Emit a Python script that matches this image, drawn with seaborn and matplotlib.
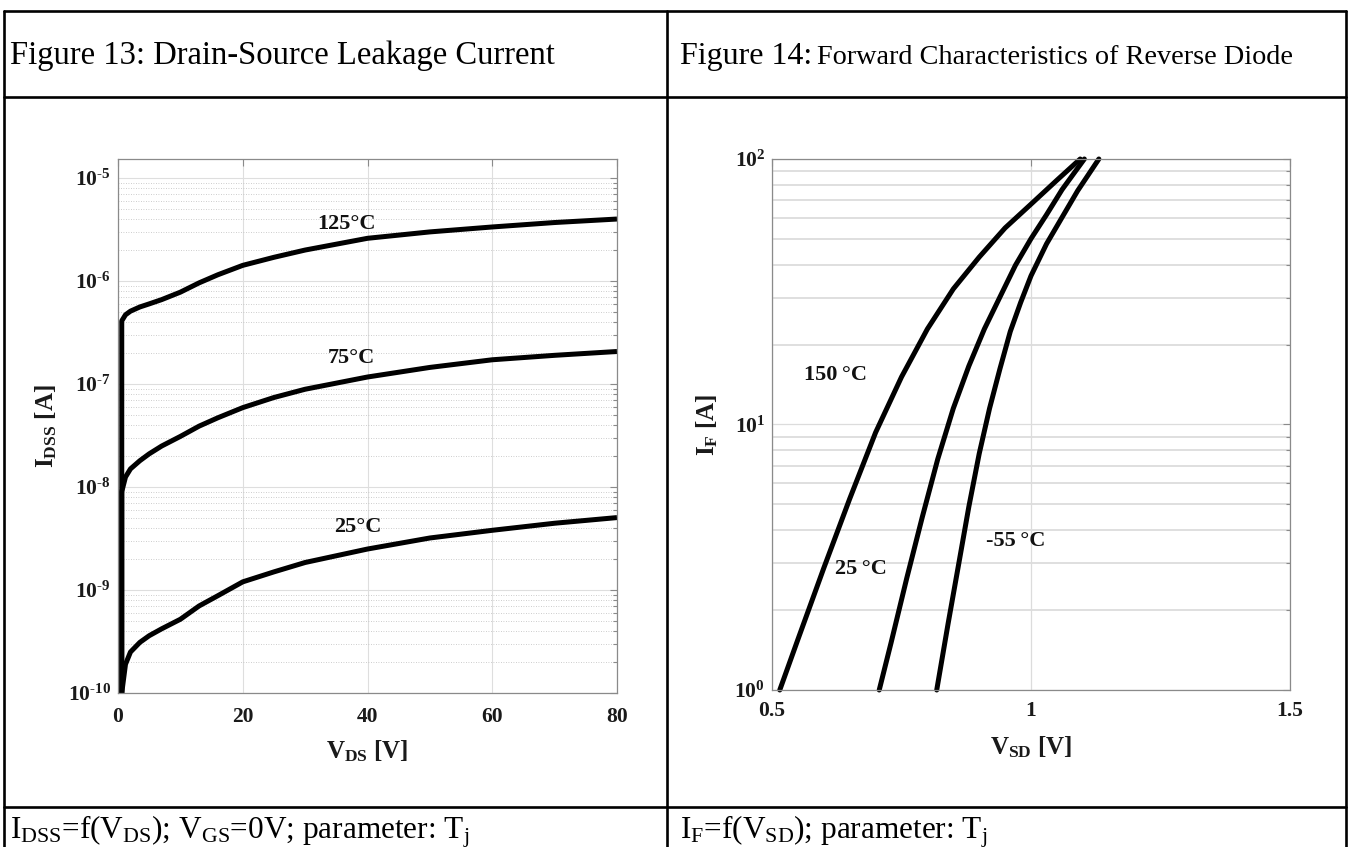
import numpy as np
import pandas as pd
import matplotlib
matplotlib.use("Agg")
import matplotlib.pyplot as plt
import seaborn as sns
from matplotlib.ticker import FixedLocator, FuncFormatter, LogLocator, NullFormatter
from matplotlib.lines import Line2D

sns.set_theme(style="white")
plt.rcParams["font.family"] = ["Liberation Serif", "DejaVu Serif"]
plt.rcParams["mathtext.fontset"] = "custom"
plt.rcParams["mathtext.rm"] = "Liberation Serif"
plt.rcParams["mathtext.it"] = "Liberation Serif:italic"
plt.rcParams["mathtext.bf"] = "Liberation Serif:bold"
plt.rcParams["mathtext.default"] = "regular"

# ---- Figure 13: drain-source leakage current vs V_DS ----
v_ds = [0.6, 0.6, 1.2, 2, 3.5, 5, 7, 10, 13, 16, 20, 25, 30, 40, 50, 60, 70, 80]
i_dss_125 = [1e-10, 4.1e-7, 4.7e-7, 5.1e-7, 5.6e-7, 6.0e-7, 6.6e-7, 7.8e-7, 9.6e-7,
             1.15e-6, 1.42e-6, 1.7e-6, 2.0e-6, 2.6e-6, 3.0e-6, 3.35e-6, 3.7e-6, 4.0e-6]
i_dss_75 = [1e-10, 9e-9, 1.25e-8, 1.5e-8, 1.8e-8, 2.1e-8, 2.5e-8, 3.1e-8, 3.9e-8,
            4.7e-8, 5.9e-8, 7.4e-8, 8.9e-8, 1.17e-7, 1.45e-7, 1.72e-7, 1.9e-7, 2.07e-7]
i_dss_25 = [1e-10, 1e-10, 1.9e-10, 2.5e-10, 3.1e-10, 3.6e-10, 4.2e-10, 5.2e-10, 7.0e-10,
            8.8e-10, 1.2e-9, 1.5e-9, 1.85e-9, 2.5e-9, 3.2e-9, 3.8e-9, 4.45e-9, 5.05e-9]
leak_labels = ["125°C", "75°C", "25°C"]
leak_label_pos = [(36.7, 3.55e-6), (37.4, 1.78e-7), (38.5, 4.1e-9)]
leak_xticks = [0, 20, 40, 60, 80]
leak_yticks = [1e-10, 1e-9, 1e-8, 1e-7, 1e-6, 1e-5]

# ---- Figure 14: forward characteristics of reverse diode ----
v_sd_150 = [0.515, 0.55, 0.60, 0.65, 0.70, 0.75, 0.80, 0.85, 0.90, 0.95, 1.00, 1.05, 1.095]
i_f_150 = [1.0, 1.55, 2.88, 5.25, 9.33, 15.1, 22.9, 32.4, 42.7, 55.0, 67.6, 83.2, 100]
v_sd_25 = [0.707, 0.73, 0.76, 0.79, 0.82, 0.85, 0.88, 0.91, 0.94, 0.97, 1.00, 1.03, 1.06, 1.103]
i_f_25 = [1.0, 1.51, 2.63, 4.47, 7.41, 11.5, 16.6, 22.9, 30.2, 39.8, 50.1, 61.7, 76.7, 100]
v_sd_m55 = [0.818, 0.84, 0.86, 0.88, 0.90, 0.92, 0.94, 0.96, 0.98, 1.00, 1.03, 1.06, 1.09, 1.131]
i_f_m55 = [1.0, 1.78, 2.95, 4.90, 7.76, 11.5, 16.2, 22.4, 28.8, 36.3, 47.9, 60.3, 75.9, 100]
diode_labels = ["150\u2009°C", "25\u2009°C", "-55\u2009°C"]
diode_label_pos = [(0.622, 15.3), (0.672, 2.86), (0.971, 3.65)]
diode_xticks = [0.5, 1, 1.5]
diode_yticks = [1, 10, 100]

W, H = 1350, 847
fig = plt.figure(figsize=(W / 100, H / 100), dpi=100)
fig.patch.set_facecolor("white")

TICK_FS = 15.5
AXLAB_FS = 18
CURVE_FS = 16


def px_rect(x0, x1, ytop, ybot):
    return [x0 / W, 1 - ybot / H, (x1 - x0) / W, (ybot - ytop) / H]


def pow10(v, pos):
    e = int(round(np.log10(v)))
    exp = ("\u2010%d" % -e) if e < 0 else "%d" % e
    return "10$^{%s}$" % exp


def style_axes(ax):
    ax.set_facecolor("white")
    for s in ax.spines.values():
        s.set_color("#8a8a8a")
        s.set_linewidth(0.9)
        s.set_visible(True)
    ax.tick_params(which="both", direction="in", top=True, right=True,
                   colors="#8a8a8a", labelcolor="#1a1a1a", width=0.8)
    ax.tick_params(which="major", length=5, labelsize=TICK_FS)
    ax.tick_params(which="minor", length=3)
    for lab in ax.get_xticklabels() + ax.get_yticklabels():
        lab.set_fontweight("bold")
    ax.set_axisbelow(True)


LW = 3.6

# Left panel
ax1 = fig.add_axes(px_rect(118, 617, 159, 693))
for ys in (i_dss_125, i_dss_75, i_dss_25):
    sns.lineplot(x=v_ds, y=ys, ax=ax1, color="black", lw=LW, sort=False,
                 estimator=None, solid_capstyle="butt")
ax1.set_yscale("log")
ax1.set_xlim(0, 80)
ax1.set_ylim(1e-10, 10 ** -4.815)
ax1.xaxis.set_major_locator(FixedLocator(leak_xticks))
ax1.yaxis.set_major_locator(FixedLocator(leak_yticks))
ax1.yaxis.set_minor_locator(LogLocator(base=10, subs=np.arange(2, 10)))
ax1.yaxis.set_minor_formatter(NullFormatter())
ax1.yaxis.set_major_formatter(FuncFormatter(pow10))
ax1.grid(True, which="major", axis="both", color="#dedede", lw=0.8, ls="-")
ax1.grid(True, which="minor", axis="y", color="#bdbdbd", lw=0.6, ls=(0, (1, 2)))
style_axes(ax1)
ax1.tick_params(axis="y", pad=5)
ax1.tick_params(axis="x", pad=10)
ax1.set_xlabel("V$_{DS}$ [V]", fontsize=AXLAB_FS, fontweight="bold", color="#1a1a1a")
ax1.set_ylabel("I$_{DSS}$ [A]", fontsize=AXLAB_FS, fontweight="bold", color="#1a1a1a")
ax1.xaxis.set_label_coords(0.5, -0.085)
ax1.yaxis.set_label_coords(-0.118, 0.5)
for txt, (x, y) in zip(leak_labels, leak_label_pos):
    ax1.text(x, y, txt, fontsize=CURVE_FS, fontweight="bold", ha="center", va="center",
             color="#111111")

# Right panel
ax2 = fig.add_axes(px_rect(772, 1290, 159, 690))
for xs, ys in ((v_sd_150, i_f_150), (v_sd_25, i_f_25), (v_sd_m55, i_f_m55)):
    sns.lineplot(x=xs, y=ys, ax=ax2, color="black", lw=LW, sort=False,
                 estimator=None, clip_on=False)
ax2.set_yscale("log")
ax2.set_xlim(0.5, 1.5)
ax2.set_ylim(1, 100)
ax2.xaxis.set_major_locator(FixedLocator(diode_xticks))
ax2.xaxis.set_major_formatter(FuncFormatter(lambda v, p: "%g" % v))
ax2.yaxis.set_major_locator(FixedLocator(diode_yticks))
ax2.yaxis.set_minor_locator(LogLocator(base=10, subs=np.arange(2, 10)))
ax2.yaxis.set_minor_formatter(NullFormatter())
ax2.yaxis.set_major_formatter(FuncFormatter(pow10))
ax2.grid(True, which="major", axis="both", color="#dcdcdc", lw=0.9, ls="-")
ax2.grid(True, which="minor", axis="y", color="#dcdcdc", lw=1.3, ls="-")
style_axes(ax2)
ax2.tick_params(axis="y", pad=5)
ax2.tick_params(axis="x", pad=8)
ax2.set_xlabel("V$_{SD}$ [V]", fontsize=AXLAB_FS, fontweight="bold", color="#1a1a1a")
ax2.set_ylabel("I$_{F}$ [A]", fontsize=AXLAB_FS, fontweight="bold", color="#1a1a1a")
ax2.xaxis.set_label_coords(0.5, -0.083)
ax2.yaxis.set_label_coords(-0.1, 0.5)
for txt, (x, y) in zip(diode_labels, diode_label_pos):
    ax2.text(x, y, txt, fontsize=CURVE_FS, fontweight="bold", ha="center", va="center",
             color="#111111")

# Table frame around the two panels
TL = 1.9
col_x = [4, 667, 1346]
row_y = [11, 97, 807]
for y in row_y:
    fig.add_artist(Line2D([col_x[0] / W, col_x[2] / W], [1 - y / H, 1 - y / H],
                          color="black", lw=TL, transform=fig.transFigure))
for x in col_x:
    fig.add_artist(Line2D([x / W, x / W], [1 - row_y[0] / H, 0],
                          color="black", lw=TL, transform=fig.transFigure))

# Header row
HEAD_Y = 1 - 64 / H
fig.text(10 / W, HEAD_Y, "Figure 13: Drain-Source Leakage Current",
         fontsize=23.5, va="baseline", ha="left", color="black")
t14 = fig.text(680 / W, HEAD_Y, "Figure 14:", fontsize=23, va="baseline",
               ha="left", color="black")
renderer = fig.canvas.get_renderer()
bb = t14.get_window_extent(renderer)
fig.text((bb.x1 + 5) / W, HEAD_Y, "Forward Characteristics of Reverse Diode",
         fontsize=20.3, va="baseline", ha="left", color="black")

# Caption row
CAP_Y = 1 - 838 / H
fig.text(10 / W, CAP_Y,
         "I$_{DSS}$=f(V$_{DS}$); V$_{GS}$=0V; parameter: T$_{j}$",
         fontsize=22.5, va="baseline", ha="left", color="black")
fig.text(680 / W, CAP_Y, "I$_{F}$=f(V$_{SD}$); parameter: T$_{j}$",
         fontsize=22.5, va="baseline", ha="left", color="black")

fig.savefig("out.png", dpi=100, facecolor="white")
